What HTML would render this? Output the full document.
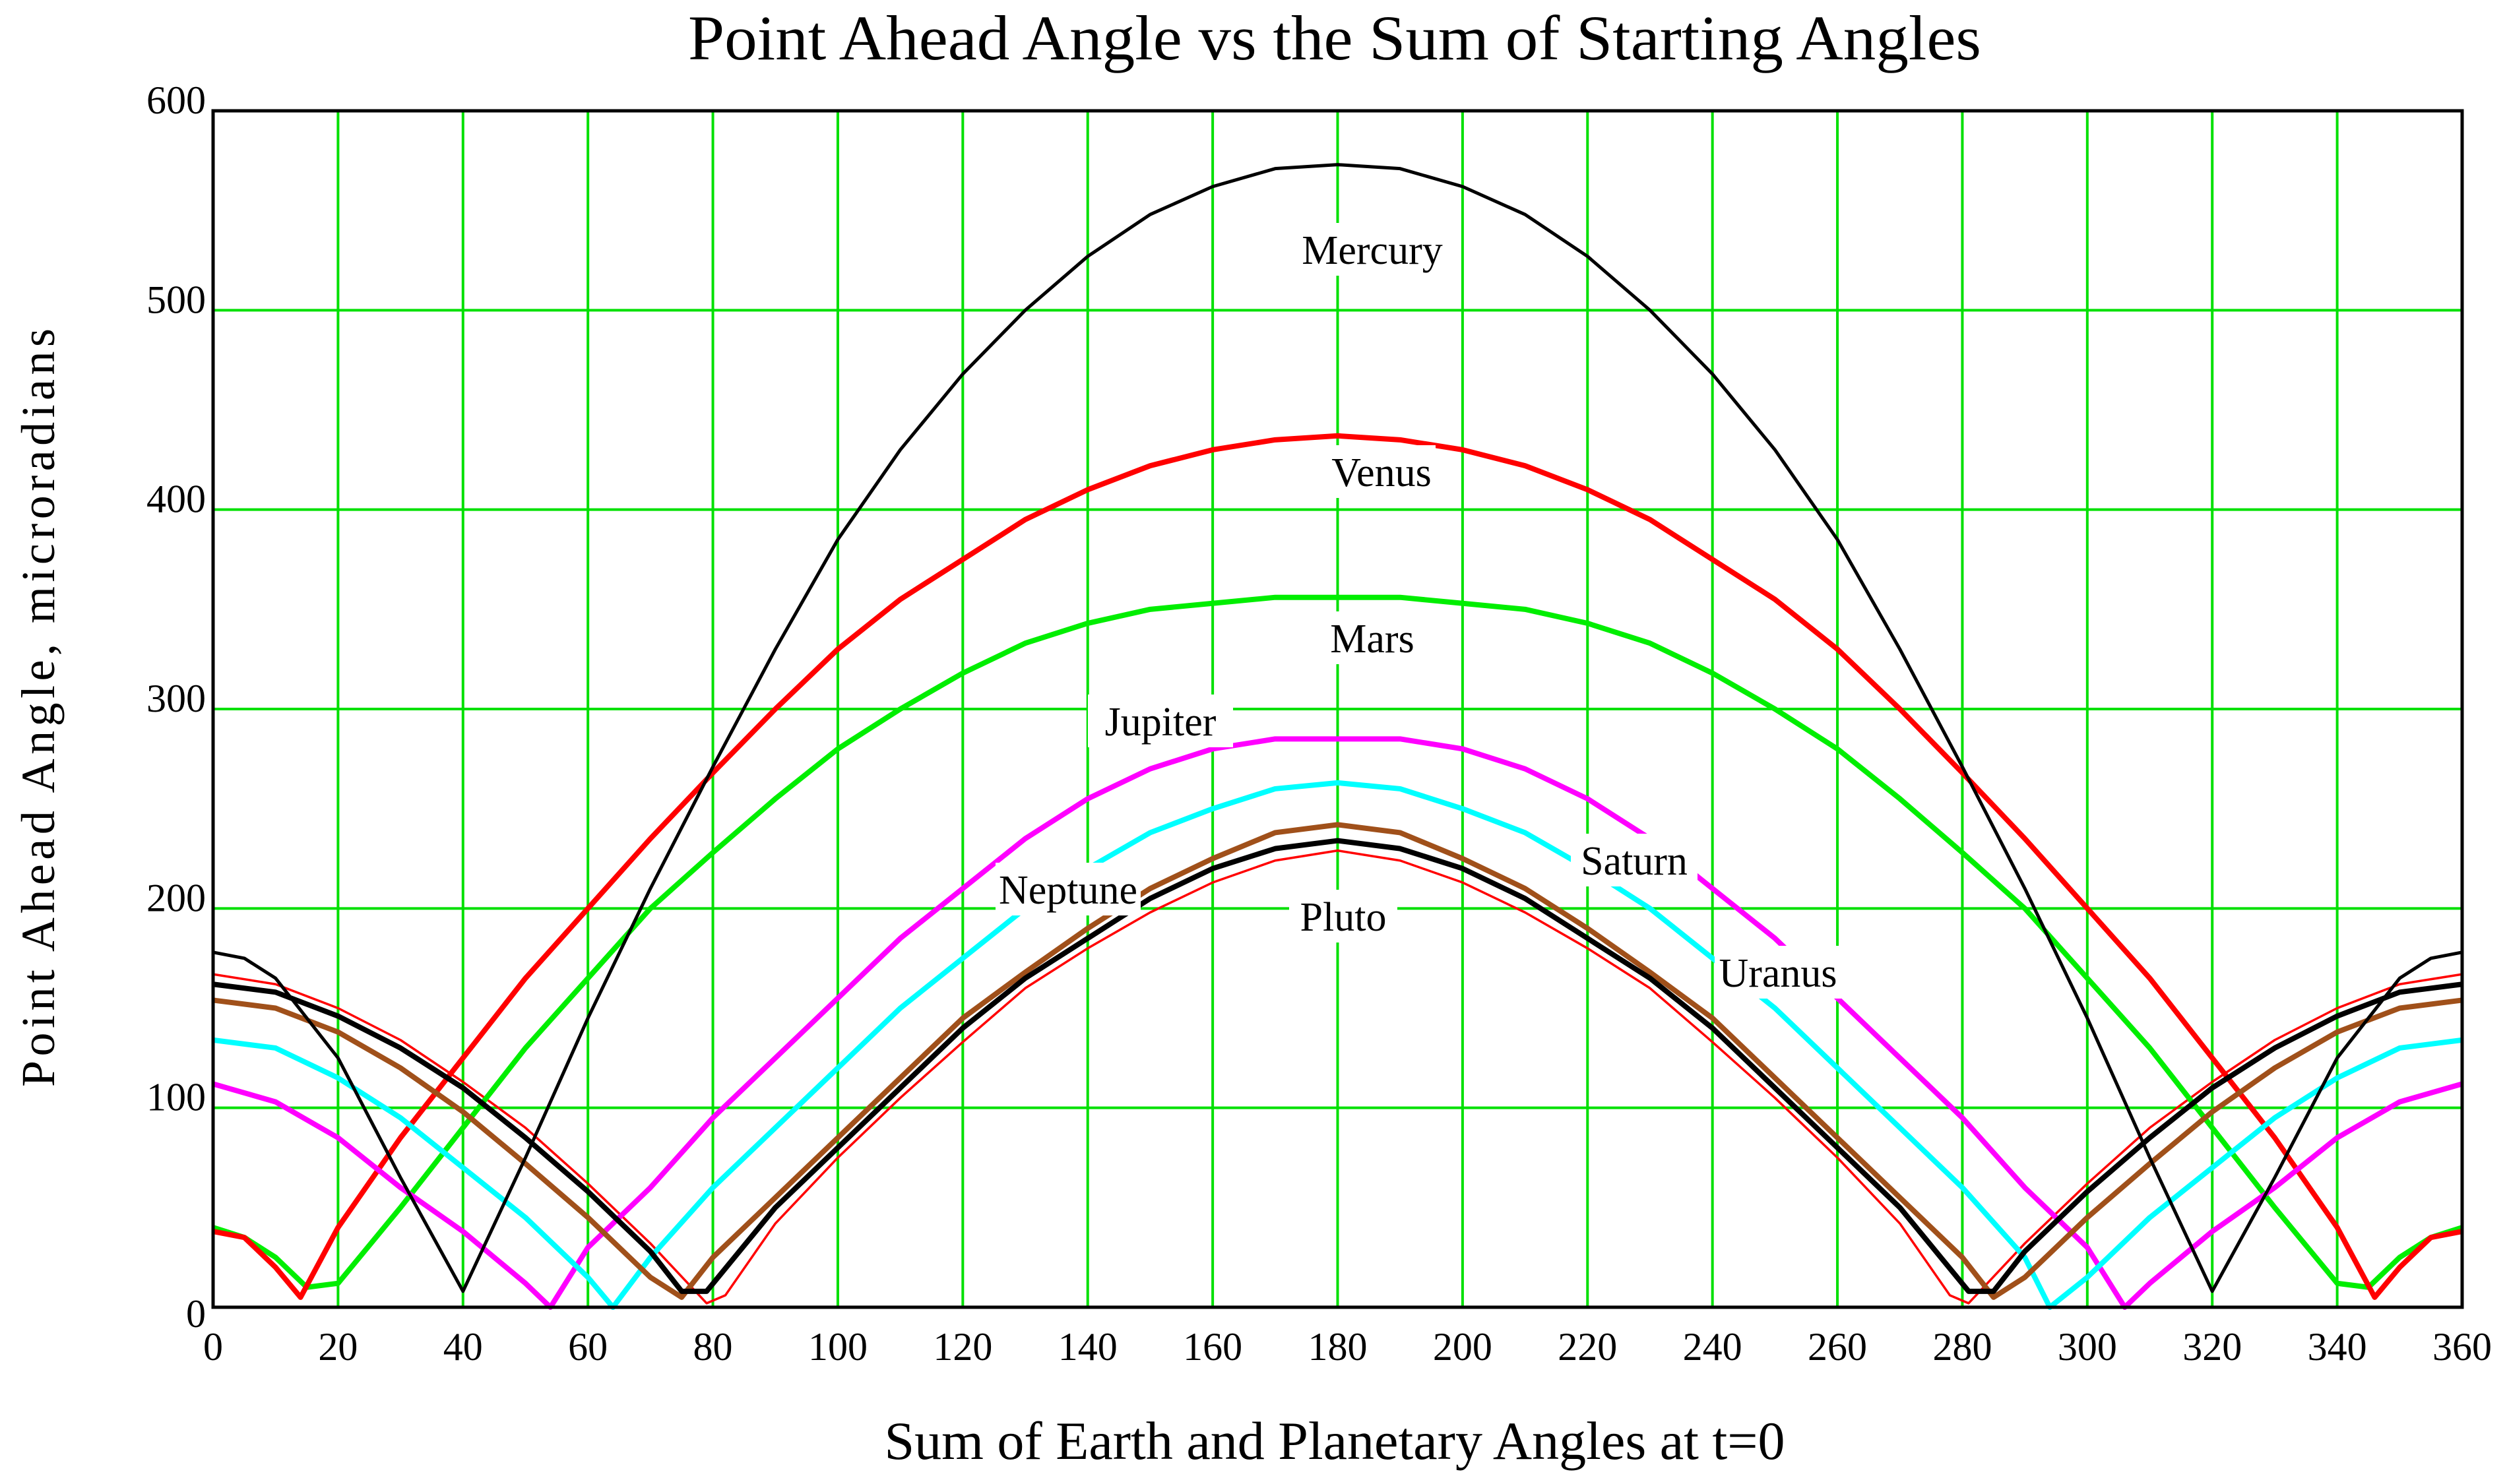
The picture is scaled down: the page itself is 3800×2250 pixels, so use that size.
<!DOCTYPE html>
<html><head><meta charset="utf-8"><style>
html,body{margin:0;padding:0;background:#fff;}
svg{display:block;}
text{font-family:"Liberation Serif",serif;fill:#000;}
</style></head><body>
<svg id="chart" width="3800" height="2250" viewBox="0 0 3800 2250" xmlns="http://www.w3.org/2000/svg">
<rect x="0" y="0" width="3800" height="2250" fill="#fff"/>
<text x="2023" y="90" font-size="96" text-anchor="middle" textLength="1960" lengthAdjust="spacingAndGlyphs">Point Ahead Angle  vs the Sum of Starting Angles</text>
<text x="2023" y="2212" font-size="82" text-anchor="middle" textLength="1365" lengthAdjust="spacingAndGlyphs">Sum of Earth and Planetary Angles at t=0</text>
<text transform="translate(82,1073) rotate(-90)" font-size="72" text-anchor="middle" textLength="1150" lengthAdjust="spacing">Point Ahead Angle, microradians</text>
<g id="grid"></g>
<g id="series"></g>
<g id="labels"></g>
<rect x="323" y="168" width="3409" height="1814" fill="none" stroke="#000" stroke-width="5"/>
<g id="ticks"></g>
</svg>
<script>
const xTicks=[0,20,40,60,80,100,120,140,160,180,200,220,240,260,280,300,320,340,360];
const yTicks=[0,100,200,300,400,500,600];
const mercuryX=[0,5,10,20,30,40,50,60,70,80,90,100,110,120,130,140,150,160,170,180,190,200,210,220,230,240,250,260,270,280,290,300,310,320,330,340,350,355,360];
const mercuryY=[178,175,165,125,65,8,75,145,210,271,330,385,430,468,500,527,548,562,571,573,571,562,548,527,500,468,430,385,330,271,210,145,75,8,65,125,165,175,178];
const venusX=[0,5,10,14,20,30,40,50,60,70,80,90,100,110,120,130,140,150,160,170,180,190,200,210,220,230,240,250,260,270,280,290,300,310,320,330,340,346,350,355,360];
const venusY=[38,35,20,5,40,85,125,165,200,235,268,300,330,355,375,395,410,422,430,435,437,435,430,422,410,395,375,355,330,300,268,235,200,165,125,85,40,5,20,35,38];
const marsX=[0,5,10,15,20,30,40,50,60,70,80,90,100,110,120,130,140,150,160,170,180,190,200,210,220,230,240,250,260,270,280,290,300,310,320,330,340,345,350,355,360];
const marsY=[40,35,25,10,12,50,90,130,165,200,228,255,280,300,318,333,343,350,353,356,356,356,353,350,343,333,318,300,280,255,228,200,165,130,90,50,12,10,25,35,40];
const jupiterX=[0,10,20,30,40,50,54,60,70,80,90,100,110,120,130,140,150,160,170,180,190,200,210,220,230,240,250,260,270,280,290,300,306,310,320,330,340,350,360];
const jupiterY=[112,103,85,60,38,12,0,30,60,95,125,155,185,210,235,255,270,280,285,285,285,280,270,255,235,210,185,155,125,95,60,30,0,12,38,60,85,103,112];
const cyanX=[0,10,20,30,40,50,60,64,70,80,90,100,110,120,130,140,150,160,170,180,190,200,210,220,230,240,250,260,270,280,290,294,300,310,320,330,340,350,360];
const cyanY=[134,130,115,95,70,45,15,0,25,60,90,120,150,175,200,220,238,250,260,263,260,250,238,220,200,175,150,120,90,60,25,0,15,45,70,95,115,130,134];
const brownX=[0,10,20,30,40,50,60,70,75,80,90,100,110,120,130,140,150,160,170,180,190,200,210,220,230,240,250,260,270,280,285,290,300,310,320,330,340,350,360];
const brownY=[154,150,138,120,98,72,45,15,5,25,55,85,115,145,168,190,210,225,238,242,238,225,210,190,168,145,115,85,55,25,5,15,45,72,98,120,138,150,154];
const blackX=[0,10,20,30,40,50,60,70,75,79,90,100,110,120,130,140,150,160,170,180,190,200,210,220,230,240,250,260,270,281,285,290,300,310,320,330,340,350,360];
const blackY=[162,158,146,130,110,85,58,28,8,8,50,80,110,140,165,185,205,220,230,234,230,220,205,185,165,140,110,80,50,8,8,28,58,85,110,130,146,158,162];
const redThinX=[0,10,20,30,40,50,60,70,79,82,90,100,110,120,130,140,150,160,170,180,190,200,210,220,230,240,250,260,270,278,281,290,300,310,320,330,340,350,360];
const redThinY=[167,162,150,134,113,90,62,32,2,6,42,75,105,133,160,180,198,213,224,229,224,213,198,180,160,133,105,75,42,6,2,32,62,90,113,134,150,162,167];

const L=323,R=3732,T=168,B=1982;
const sx=v=>L+(v/360)*(R-L);
const sy=v=>B-(v/600)*(B-T);
const NS="http://www.w3.org/2000/svg";
function mk(tag,parent,attrs){const e=document.createElementNS(NS,tag);for(const k in attrs)e.setAttribute(k,attrs[k]);parent.appendChild(e);return e;}
const grid=document.getElementById('grid'),ticks=document.getElementById('ticks'),series=document.getElementById('series'),labels=document.getElementById('labels');
xTicks.forEach(t=>{
  if(t>0&&t<360){const g=mk('line',grid,{x1:sx(t),x2:sx(t),y1:T,y2:B,stroke:'#00e000','stroke-width':4});
  
  }
  const tx=mk('text',ticks,{x:sx(t),y:2062,'font-size':60,'text-anchor':'middle'});tx.textContent=t;
  
  
});
yTicks.forEach(t=>{
  if(t>0&&t<600){const g=mk('line',grid,{x1:L,x2:R,y1:sy(t),y2:sy(t),stroke:'#00e000','stroke-width':4});
  
  }
  const tx=mk('text',ticks,{x:312,y:sy(t)+(t===0?30:4),'font-size':60,'text-anchor':'end'});tx.textContent=t;
  
  
});
function line(xs,ys,color,w,name){
  const p=mk('polyline',series,{points:xs.map((x,i)=>sx(x)+','+sy(ys[i])).join(' '),fill:'none',stroke:color,'stroke-width':w,'stroke-linejoin':'round'});
  
  
}
line(redThinX,redThinY,'#ff0000',3.5,'pluto-outline-line');
line(marsX,marsY,'#00ee00',8,'mars-line');
line(venusX,venusY,'#ff0000',8,'venus-line');
line(jupiterX,jupiterY,'#ff00ff',8,'jupiter-line');
line(cyanX,cyanY,'#00ffff',8,'saturn-line');
line(brownX,brownY,'#a0501a',8,'uranus-line');
line(blackX,blackY,'#000000',8,'neptune-line');
line(mercuryX,mercuryY,'#000000',5,'mercury-line');
const labelNames=['Mercury','Venus','Mars','Jupiter','Neptune','Saturn','Pluto','Uranus'];
const labelX=[2080,2094,2080,1759,1619,2477,2036,2695];
const labelY=[380,717,969,1095,1350,1306,1391,1476];
labelNames.forEach((n,i)=>{
  const w=n.length*28+24;
  const r=mk('rect',labels,{x:labelX[i]-w/2,y:labelY[i]-42,width:w,height:80,fill:'#fff'});
  
  
  const t=mk('text',labels,{x:labelX[i],y:labelY[i]+20,'font-size':62,'text-anchor':'middle'});t.textContent=n;
  
  
});
</script>
</body></html>
